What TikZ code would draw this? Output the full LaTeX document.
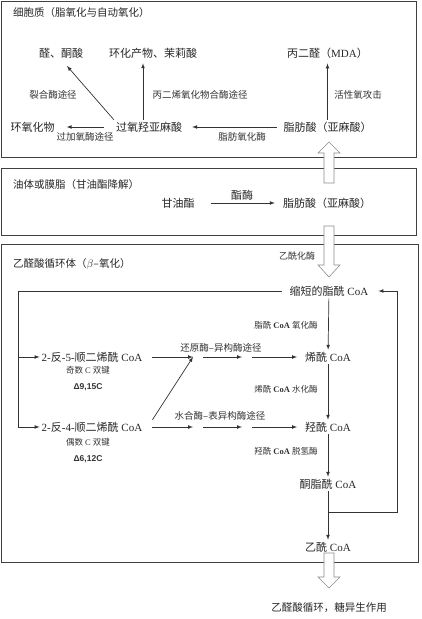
\documentclass[tikz,border=0pt]{standalone}
\usepackage{fontspec}
\setmainfont{Liberation Serif}
\setsansfont{Liberation Sans}
\newfontfamily\zhfont{Noto Sans CJK SC}
\newcommand{\zh}[1]{{\zhfont #1}}
\usepackage{tikz}
\usetikzlibrary{arrows}

\begin{document}
\begin{tikzpicture}[x=1pt, y=-1pt, >=latex,   % 1 unit = 1 px of the layout
	box/.style={draw=black!75, line width=0.9pt},
	hollow/.style={draw=black!45, fill=white, line width=0.6pt},
	flow/.style={->, draw=black!80, line width=0.7pt},
	main/.style={inner sep=2pt, text=black!85, font=\fontsize{11}{13}\selectfont},
	lab/.style={inner sep=1pt, text=black!80, font=\fontsize{9.5}{11}\selectfont},
	enz/.style={inner sep=1pt, text=black!80, font=\fontsize{8.5}{10}\selectfont},
	delta/.style={inner sep=1pt, text=black!80, font=\sffamily\bfseries\fontsize{8.5}{10}\selectfont},
	ttl/.style={anchor=west, inner sep=0pt, text=black!85, font=\fontsize{10.5}{12}\selectfont}]
	\useasboundingbox (0,0) rectangle (421,619);

	% the three compartments
	\draw[box] (1.5,1) rectangle (416,157);
	\draw[box] (1.5,168) rectangle (416,235);
	\draw[box] (1.5,244) rectangle (418,562);
	\node[ttl] (tcyto) at (13,13) {\zh{细胞质（脂氧化与自动氧化）}};
	\node[ttl] (toil) at (13,185) {\zh{油体或膜脂（甘油酯降解）}};
	\node[ttl] (tglyox) at (13,264) {\zh{乙醛酸循环体（}$\beta$\zh{–氧化）}};

	% cytoplasm
	\node[main] (ald) at (61,53) {\zh{醛、酮酸}};
	\node[main] (cyc) at (153,53) {\zh{环化产物、茉莉酸}};
	\node[main] (mda) at (327.5,53) {\zh{丙二醛（}MDA\zh{）}};
	\node[main] (epo) at (32.5,127) {\zh{环氧化物}};
	\node[main] (pox) at (149,127) {\zh{过氧羟亚麻酸}};
	\node[main] (fa1) at (327.5,127) {\zh{脂肪酸（亚麻酸）}};
	\coordinate (aldin) at (67,66);
	\draw[flow, shorten <=4.5pt, shorten >=8pt] (fa1) -- (pox);
	\draw[flow, shorten <=10pt, shorten >=10pt] (pox) -- (epo);
	\draw[flow] (pox.north west) -- (aldin);
	\draw[flow, shorten >=3pt] ([xshift=-6pt]pox.north) -- ([xshift=-6pt]pox.north |- cyc.south);
	\draw[flow, shorten >=3pt] (fa1) -- (mda);
	\node[lab] (llyase) at (53,95) {\zh{裂合酶途径}};
	\node[lab] (laos) at (200,95) {\zh{丙二烯氧化物合酶途径}};
	\node[lab] (lros) at (358,95) {\zh{活性氧攻击}};
	\node[lab] (lperox) at (85,137) {\zh{过加氧酶途径}};
	\node[lab] (llox) at (242,137) {\zh{脂肪氧化酶}};

	% oil body
	\node[main] (tag) at (178,203) {\zh{甘油酯}};
	\node[main] (fa2) at (327,203) {\zh{脂肪酸（亚麻酸）}};
	\draw[flow, shorten <=14pt, shorten >=6pt] (tag) -- (fa2);
	\node[main] (lest) at (242,195) {\zh{酯酶}};

	% glyoxysome
	\node[lab, font=\fontsize{9}{11}\selectfont] (lact) at (297,256) {\zh{乙酰化酶}};
	\node[main] (short) at (329,291) {\zh{缩短的脂酰} CoA};
	\node[main] (de5) at (92,357) {2-\zh{反}-5-\zh{顺二烯酰} CoA};
	\node[enz] (odd) at (88,370) {\zh{奇数} C \zh{双键}};
	\node[delta] (d915) at (88,387) {Δ9,15C};
	\node[main] (de4) at (92,427) {2-\zh{反}-4-\zh{顺二烯酰} CoA};
	\node[enz] (even) at (88,442) {\zh{偶数} C \zh{双键}};
	\node[delta] (d612) at (88,459) {Δ6,12C};
	\node[main] (enoyl) at (328,357) {\zh{烯酰} CoA};
	\node[main] (hydr) at (328,427) {\zh{羟酰} CoA};
	\node[main] (keto) at (328,484) {\zh{酮脂酰} CoA};
	\node[main] (acoa) at (328,547) {\zh{乙酰} CoA};

	\coordinate (ra1) at (193,357);
	\coordinate (ra2) at (203,357);
	\coordinate (rb1) at (242,357);
	\coordinate (rb2) at (252,357);
	\coordinate (ha1) at (193,427);
	\coordinate (ha2) at (203,427);
	\coordinate (hb1) at (242,427);
	\coordinate (hb2) at (252,427);
	\draw[flow, shorten <=8pt] (de5) -- (ra1);
	\draw[flow] (ra2) -- (rb1);
	\draw[flow, shorten >=6pt] (rb2) -- (enoyl);
	\draw[flow, shorten <=8pt] (de4) -- (ha1);
	\draw[flow] (ha2) -- (hb1);
	\draw[flow, shorten >=6pt] (hb2) -- (hydr);
	\draw[flow] ([xshift=8pt]de4.north east) -- (ra1);
	\node[lab] (lred) at (221,348) {\zh{还原酶–异构酶途径}};
	\node[lab] (lhyd) at (220,416) {\zh{水合酶–表异构酶途径}};

	\draw[flow] (short) -- (enoyl);
	\draw[flow] (enoyl) -- (hydr);
	\draw[flow] (hydr) -- (keto);
	\draw[flow] (keto) -- (acoa);
	\node[enz] (lacox) at (286,325) {\zh{脂酰} \textbf{CoA} \zh{氧化酶}};
	\node[enz] (lech) at (286,389) {\zh{烯酰} \textbf{CoA} \zh{水化酶}};
	\node[enz] (lhadh) at (286,451) {\zh{羟酰} \textbf{CoA} \zh{脱氢酶}};

	% loops back to the start
	\coordinate (lc) at (18,291);
	\coordinate (rj) at (328,512);
	\coordinate (rc) at (397,512);
	\draw[flow, shorten <=6pt] (short.west) -- (lc) |- (de5);
	\draw[flow] (lc) |- (de4);
	\draw[flow, shorten >=8pt] (rj) -- (rc) |- (short);

	% hollow transfer arrows
	\draw[hollow] (324,183) -- (324,153) -- (318,153) -- (329,142) -- (340,153) -- (334,153) -- (334,183) -- cycle;
	\draw[hollow] (324,226) -- (334,226) -- (334,265) -- (340,265) -- (329,277) -- (318,265) -- (324,265) -- cycle;
	\draw[hollow] (324,553) -- (334,553) -- (334,577) -- (340,577) -- (329,588) -- (318,577) -- (324,577) -- cycle;
	\node[main, font=\fontsize{10.5}{12}\selectfont] (final) at (329,608) {\zh{乙醛酸循环，糖异生作用}};
\end{tikzpicture}
\end{document}
